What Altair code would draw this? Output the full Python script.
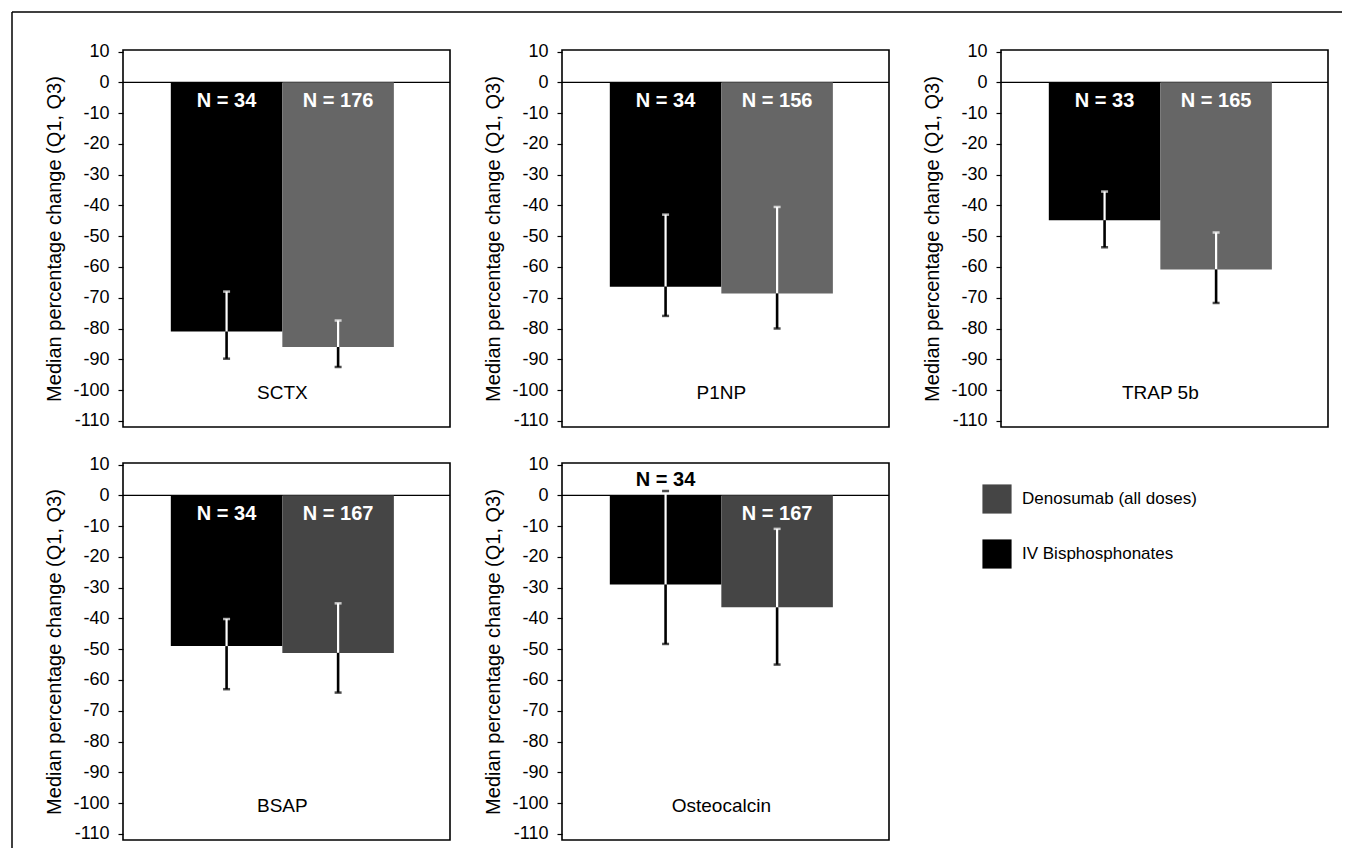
import altair as alt
import pandas as pd

markers = ["SCTX", "P1NP", "TRAP 5b", "BSAP", "Osteocalcin"]
series = ["IV Bisphosphonates", "Denosumab (all doses)"]
legend_order = ["Denosumab (all doses)", "IV Bisphosphonates"]

iv_median = [-81.0, -66.4, -44.8, -49.0, -29.0]
iv_q1 = [-89.8, -75.9, -53.6, -63.0, -48.3]
iv_q3 = [-68.0, -43.0, -35.5, -40.2, 1.4]
iv_labels = ["N = 34", "N = 34", "N = 33", "N =  34", "N = 34"]

den_median = [-86.0, -68.6, -60.8, -51.2, -36.4]
den_q1 = [-92.5, -80.0, -71.7, -64.1, -55.0]
den_q3 = [-77.4, -40.5, -48.8, -35.1, -10.9]
den_labels = ["N = 176", "N = 156", "N = 165", "N = 167", "N = 167"]

y_ticks = list(range(-110, 11, 10))

FONT = "Liberation Sans"
W, H = 327, 377
TOP_GRAY = "#666666"
BOTTOM_GRAY = "#454545"


def panel(i, gray, legend=False, border=False):
    df = pd.DataFrame({
        "series": series,
        "median": [iv_median[i], den_median[i]],
        "q1": [iv_q1[i], den_q1[i]],
        "q3": [iv_q3[i], den_q3[i]],
        "label": [iv_labels[i], den_labels[i]],
    })
    base = alt.Chart(df)
    xenc = alt.X("series:N", axis=None,
                 scale=alt.Scale(domain=series, paddingInner=0, paddingOuter=0.466, align=0.46))
    yscale = alt.Scale(domain=[-112, 10.5], nice=False, zero=False)
    yaxis = alt.Axis(values=y_ticks, tickCount=30, title="Median percentage change (Q1, Q3)",
                     labelExpr="replace(datum.label, '\u2212', '-')",
                     tickSize=5, tickWidth=1.2, tickColor="black", labelPadding=9,
                     titlePadding=8, domain=False, grid=False, labelOverlap=False,
                     labelFont=FONT, labelFontSize=18, labelColor="black",
                     titleFont=FONT, titleFontSize=20, titleFontWeight="normal",
                     titleColor="black")
    if legend:
        leg = alt.Legend(orient="none", legendX=420, legendY=21, title=None,
                         symbolType="square", symbolSize=850, symbolStrokeWidth=0,
                         symbolOpacity=1, labelFont=FONT, labelFontSize=17,
                         labelColor="black", rowPadding=25, labelOffset=10,
                         padding=0, labelLimit=400)
    else:
        leg = None
    color = alt.Color("series:N", scale=alt.Scale(domain=legend_order, range=[gray, "black"]),
                      legend=leg)

    zero = alt.Chart(alt.Data(values=[{"z": 0}])).mark_rule(color="black", strokeWidth=1.2).encode(
        y=alt.Y("z:Q", scale=yscale, axis=yaxis))
    bars = base.mark_bar(opacity=1).encode(
        x=xenc, y=alt.Y("median:Q", scale=yscale, axis=yaxis), y2=alt.datum(0), color=color)
    up = base.mark_rule(color="white", strokeWidth=2.2).encode(x=xenc, y="median:Q", y2="q3:Q")
    low = base.mark_rule(color="black", strokeWidth=2.6).encode(x=xenc, y="q1:Q", y2="median:Q")
    up_cap = base.mark_tick(size=7, thickness=2.5).encode(
        x=xenc, y="q3:Q",
        color=alt.condition("datum.q3 > 0", alt.value("black"), alt.value("white")))
    low_cap = base.mark_tick(size=7, thickness=2.5, color="black").encode(x=xenc, y="q1:Q")
    nlab = base.transform_calculate(ly="datum.q3 > 0 ? 5 : -6").mark_text(
        font=FONT, fontSize=20, fontWeight="bold", baseline="middle", align="center").encode(
        x=xenc, y="ly:Q",
        color=alt.condition("datum.q3 > 0", alt.value("black"), alt.value("white")),
        text="label:N")
    cat = alt.Chart(alt.Data(values=[{"name": markers[i], "series": series[1]}])).mark_text(
        font=FONT, fontSize=19, baseline="middle", align="center", color="black").encode(
        x=alt.X("series:N", bandPosition=0), y=alt.datum(-101), text="name:N")
    layers = [zero, bars, up, low, up_cap, low_cap, nlab, cat]
    if border:
        one = alt.Data(values=[{"b": 1}])
        top = alt.Chart(one).mark_rule(color="black", strokeWidth=1.5).encode(
            x=alt.value(-111), x2=alt.value(1219), y=alt.value(-38))
        left = alt.Chart(one).mark_rule(color="black", strokeWidth=1.5).encode(
            x=alt.value(-111), y=alt.value(-38), y2=alt.value(798))
        layers += [top, left]
    return alt.layer(*layers).properties(width=W, height=H)


panels = [
    panel(0, TOP_GRAY, border=True),
    panel(1, TOP_GRAY),
    panel(2, TOP_GRAY),
    panel(3, BOTTOM_GRAY),
    panel(4, BOTTOM_GRAY, legend=True),
]

chart = alt.concat(*panels, columns=3, spacing={"row": 36, "column": 112},
                   bounds="flush").resolve_scale(color="independent").properties(
    padding={"left": 2, "top": 2, "right": 0, "bottom": 0}
).configure(
    background="white",
    view=alt.ViewConfig(stroke="black", strokeWidth=1.6),
)

chart.save("out.html", embed_options={"renderer": "svg", "actions": False})
